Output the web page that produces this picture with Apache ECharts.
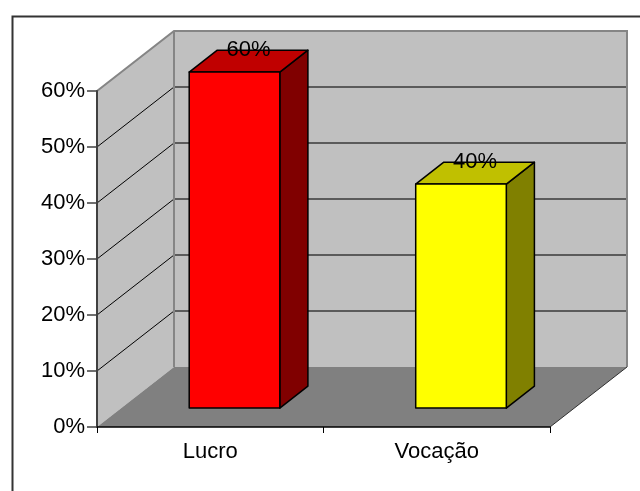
<!DOCTYPE html>
<html>
<head>
<meta charset="utf-8">
<script src="https://cdn.jsdelivr.net/npm/echarts@6/dist/echarts.min.js"></script>
<style>
  html, body { margin: 0; padding: 0; background: #ffffff; }
  #chart { width: 640px; height: 491px; }
</style>
</head>
<body>
<div id="chart"></div>
<script>
// Chart data
const CATEGORIES = ['Lucro', 'Vocação'];
const VALUES = [60, 40];
const Y_TICKS = [0, 10, 20, 30, 40, 50, 60];

// Perspective: depth of the walls in pixels, and where each bar sits in that depth
const WALL_DEPTH = [77, -60];
const BAR_FRONT = 0.315;
const BAR_BACK = 0.68;
const BAR_WIDTH_RATIO = 0.4;

const BAR_COLORS = [
  { front: '#ff0000', top: '#c00000', side: '#800000' },
  { front: '#ffff00', top: '#c0c000', side: '#808000' }
];
const FONT = '"Liberation Sans", Arial, Helvetica, sans-serif';

const chart = echarts.init(document.getElementById('chart'), null, { renderer: 'canvas' });

function offset(pt, f) {
  return [pt[0] + WALL_DEPTH[0] * f, pt[1] + WALL_DEPTH[1] * f];
}

// Side wall, back wall, floor and their gridlines
function renderFrame(params, api) {
  const cs = params.coordSys;
  const left = cs.x;
  const right = cs.x + cs.width;
  const y0 = api.coord([0, Y_TICKS[0]])[1];
  const yTop = api.coord([0, Y_TICKS[Y_TICKS.length - 1]])[1];
  const dx = WALL_DEPTH[0], dy = WALL_DEPTH[1];
  const children = [];

  // side wall
  children.push({
    type: 'polygon',
    shape: { points: [[left, yTop], [left + dx, yTop + dy], [left + dx, y0 + dy], [left, y0]] },
    style: { fill: '#c0c0c0', stroke: null }
  });
  // back wall
  children.push({
    type: 'rect',
    shape: { x: left + dx, y: yTop + dy, width: right - left, height: y0 - yTop },
    style: { fill: '#c0c0c0', stroke: null }
  });
  // floor
  children.push({
    type: 'polygon',
    shape: { points: [[left, y0], [left + dx, y0 + dy], [right + dx, y0 + dy], [right, y0]] },
    style: { fill: '#808080', stroke: null }
  });

  // gridlines on back wall and diagonals on side wall
  Y_TICKS.forEach(function (v) {
    if (v === Y_TICKS[0] || v === Y_TICKS[Y_TICKS.length - 1]) return;
    const y = api.coord([0, v])[1];
    children.push({
      type: 'line',
      shape: { x1: left + dx, y1: y + dy, x2: right + dx, y2: y + dy },
      style: { stroke: '#3a3a3a', lineWidth: 1.5 }
    });
    children.push({
      type: 'line',
      shape: { x1: left, y1: y, x2: left + dx, y2: y + dy },
      style: { stroke: '#000000', lineWidth: 1 }
    });
  });

  // wall edges
  children.push({
    type: 'polyline',
    shape: { points: [[left, yTop], [left + dx, yTop + dy], [right + dx, yTop + dy], [right + dx, y0 + dy]] },
    style: { stroke: '#858585', lineWidth: 2, fill: null }
  });
  children.push({
    type: 'line',
    shape: { x1: left + dx, y1: yTop + dy, x2: left + dx, y2: y0 + dy },
    style: { stroke: '#858585', lineWidth: 2 }
  });
  // floor right edge
  children.push({
    type: 'line',
    shape: { x1: right, y1: y0, x2: right + dx, y2: y0 + dy },
    style: { stroke: '#303030', lineWidth: 1 }
  });

  return { type: 'group', children: children };
}

// 3D box for each bar
function renderBar(params, api) {
  const idx = api.value(0);
  const val = api.value(1);
  const colors = BAR_COLORS[params.dataIndex % BAR_COLORS.length];
  const topPt = api.coord([idx, val]);
  const basePt = api.coord([idx, 0]);
  const w = api.size([1, 0])[0] * BAR_WIDTH_RATIO;

  const fTop = offset(topPt, BAR_FRONT);
  const fBase = offset(basePt, BAR_FRONT);
  const bTop = offset(topPt, BAR_BACK);
  const bBase = offset(basePt, BAR_BACK);

  const fl = fTop[0] - w / 2, fr = fTop[0] + w / 2;
  const bl = bTop[0] - w / 2, br = bTop[0] + w / 2;
  const stroke = { stroke: '#000000', lineWidth: 1.5, lineJoin: 'round' };

  return {
    type: 'group',
    children: [
      {
        type: 'polygon',
        shape: { points: [[fr, fTop[1]], [br, bTop[1]], [br, bBase[1]], [fr, fBase[1]]] },
        style: Object.assign({ fill: colors.side }, stroke)
      },
      {
        type: 'polygon',
        shape: { points: [[fl, fTop[1]], [bl, bTop[1]], [br, bTop[1]], [fr, fTop[1]]] },
        style: Object.assign({ fill: colors.top }, stroke)
      },
      {
        type: 'rect',
        shape: { x: fl, y: fTop[1], width: w, height: fBase[1] - fTop[1] },
        style: Object.assign({ fill: colors.front }, stroke)
      },
      {
        type: 'text',
        x: (fTop[0] + bTop[0]) / 2,
        y: bTop[1] - 0.5,
        style: {
          text: val + '%',
          fill: '#000000',
          font: '22px ' + FONT,
          align: 'center',
          verticalAlign: 'middle'
        }
      }
    ]
  };
}

const option = {
  backgroundColor: '#ffffff',
  animation: false,
  graphic: [{
    type: 'rect',
    left: 10,
    top: 14,
    shape: { width: 660, height: 500 },
    style: { fill: null, stroke: '#333333', lineWidth: 2 },
    z: 0
  }],
  grid: { left: 97, right: 90, top: 91, bottom: 64, containLabel: false },
  xAxis: {
    type: 'category',
    data: CATEGORIES,
    z: 5,
    axisLine: { show: true, lineStyle: { color: '#000000', width: 1.5 } },
    axisTick: { show: true, length: 6, lineStyle: { color: '#000000', width: 1 } },
    axisLabel: { color: '#000000', fontSize: 22, fontFamily: FONT, margin: 14 },
    splitLine: { show: false }
  },
  yAxis: {
    type: 'value',
    min: 0,
    max: 60,
    interval: 10,
    z: 5,
    axisLine: { show: true, lineStyle: { color: '#404040', width: 2 } },
    axisTick: { show: true, length: 10, lineStyle: { color: '#404040', width: 1.5 } },
    axisLabel: { color: '#000000', fontSize: 22, fontFamily: FONT, margin: 12, formatter: '{value}%' },
    splitLine: { show: false }
  },
  series: [
    {
      type: 'custom',
      name: 'frame',
      z: 1,
      silent: true,
      renderItem: renderFrame,
      data: [[0, 0]],
      encode: { x: 0, y: 1 }
    },
    {
      type: 'custom',
      name: 'values',
      z: 3,
      renderItem: renderBar,
      data: VALUES.map(function (v, i) { return [i, v]; }),
      encode: { x: 0, y: 1 }
    }
  ]
};

chart.setOption(option);
</script>
</body>
</html>
